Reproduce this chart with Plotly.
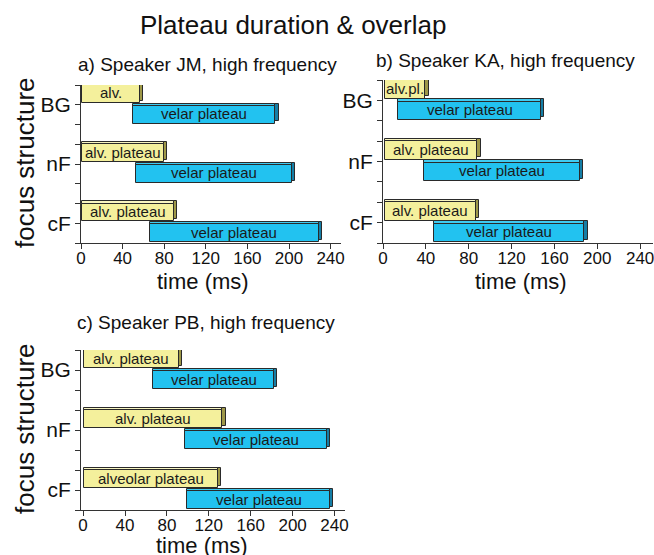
import plotly.graph_objects as go

# ---------------- data ----------------
categories = ["BG", "nF", "cF"]
cat_pos = [2, 1, 0]
x_ticks = [0, 40, 80, 120, 160, 200, 240]

main_title = "Plateau duration & overlap"
panel_titles = ["a) Speaker JM, high frequency",
                "b) Speaker KA, high frequency",
                "c) Speaker PB, high frequency"]
x_title = "time (ms)"
y_title = "focus structure"

# panel a (ms), order BG, nF, cF
alv_start_a = [1, 1, 1]
alv_end_a = [57, 80, 89]
vel_start_a = [50, 53, 66]
vel_end_a = [187, 203, 229]
alv_labels_a = ["alv.", "alv. plateau", "alv. plateau"]

# panel b
alv_start_b = [1.5, 1.5, 1.5]
alv_end_b = [39.5, 88, 87]
vel_start_b = [14, 38, 47.5]
vel_end_b = [147.5, 184, 188]
alv_labels_b = ["alv.pl.", "alv. plateau", "alv. plateau"]

# panel c
alv_start_c = [0.6, 0.6, 0.6]
alv_end_c = [91.5, 133, 129]
vel_start_c = [67, 97.5, 99.5]
vel_end_c = [182.5, 232.5, 236]
alv_labels_c = ["alv. plateau", "alv. plateau", "alveolar plateau"]

vel_label = "velar plateau"

# ---------------- styling ----------------
W, H = 654, 555
FONT = "Liberation Sans, Arial, sans-serif"
YEL, YEL_TOP, YEL_SIDE = "#F4F09C", "#F8F5C0", "#9E9848"
BLU, BLU_TOP, BLU_SIDE = "#22C2F0", "#3FCBF2", "#157EA6"
EDGE = "#2a2a2a"
D_MS = 3.0     # depth to the right (ms)
D_Y = 0.04     # depth upwards (category units)
BAR_W = 0.30
ALV_OFF, VEL_OFF = 0.03, -0.32

panels = [
    dict(alv_s=alv_start_a, alv_e=alv_end_a, vel_s=vel_start_a, vel_e=vel_end_a,
         labels=alv_labels_a, px=(81, 341), py=(85, 243), xr=(0, 250), ax="",
         xt=(203, 281), yt=True),
    dict(alv_s=alv_start_b, alv_e=alv_end_b, vel_s=vel_start_b, vel_e=vel_end_b,
         labels=alv_labels_b, px=(383, 653), py=(80, 243), xr=(0, 252), ax="2",
         xt=(521, 281), yt=False),
    dict(alv_s=alv_start_c, alv_e=alv_end_c, vel_s=vel_start_c, vel_e=vel_end_c,
         labels=alv_labels_c, px=(81, 345), py=(350, 510), xr=(-2, 250), ax="3",
         xt=(202, 545), yt=True),
]

fig = go.Figure()
annotations = []


def add_bar(ax, starts, ends, offset, face, top, side, texts):
    durs = [e - s for s, e in zip(starts, ends)]
    common = dict(y=cat_pos, orientation="h", width=BAR_W, xaxis="x" + ax, yaxis="y" + ax,
                  showlegend=False, hoverinfo="skip")
    # side (dark) layer, shifted right and up
    fig.add_trace(go.Bar(x=durs, base=[s + D_MS for s in starts], offset=offset + D_Y,
                         marker=dict(color=side, line=dict(color=EDGE, width=1)), **common))
    # top (light) layer, shifted up
    fig.add_trace(go.Bar(x=durs, base=starts, offset=offset + D_Y,
                         marker=dict(color=top, line=dict(color=EDGE, width=1)), **common))
    # front face
    fig.add_trace(go.Bar(x=durs, base=starts, offset=offset,
                         marker=dict(color=face, line=dict(color=EDGE, width=1)), **common))
    for s, e, y, t in zip(starts, ends, cat_pos, texts):
        annotations.append(dict(text=t, x=(s + e) / 2, y=y + offset + BAR_W / 2 + 0.02,
                                xref="x" + ax, yref="y" + ax, showarrow=False,
                                xanchor="center", yanchor="middle",
                                font=dict(family=FONT, size=15, color="#1a1a1a")))


layout_axes = {}
for p in panels:
    ax = p["ax"]
    add_bar(ax, p["alv_s"], p["alv_e"], ALV_OFF, YEL, YEL_TOP, YEL_SIDE, p["labels"])
    add_bar(ax, p["vel_s"], p["vel_e"], VEL_OFF, BLU, BLU_TOP, BLU_SIDE, [vel_label] * 3)

    x0, x1 = p["px"]
    y0, y1 = p["py"]
    ytv = [-1/3, 0, 1/3, 2/3, 1, 4/3, 5/3, 2, 7/3]
    ytt = []
    for v in ytv:
        lab = ""
        for c, pos in zip(categories, cat_pos):
            if abs(v - pos) < 1e-6:
                lab = c
        ytt.append(lab)
    layout_axes["xaxis" + ax] = dict(
        domain=[x0 / W, x1 / W], anchor="y" + ax, range=list(p["xr"]), automargin=False,
        tickvals=x_ticks, ticks="outside", ticklen=5, tickcolor="#333",
        ticklabeloverflow="allow", ticklabelstandoff=-5,
        showline=True, linecolor="#333", linewidth=1, showgrid=False, zeroline=False,
        tickfont=dict(family=FONT, size=17, color="#111"),
    )
    layout_axes["yaxis" + ax] = dict(
        domain=[1 - y1 / H, 1 - y0 / H], anchor="x" + ax, range=[-1/3, 7/3], automargin=False,
        tickvals=ytv, ticktext=ytt, ticks="outside", ticklen=5, tickcolor="#333",
        ticklabeloverflow="allow",
        showline=True, linecolor="#333", linewidth=1, showgrid=False, zeroline=False,
        tickfont=dict(family=FONT, size=21, color="#111"),
    )
    annotations.append(dict(text=x_title, x=p["xt"][0] / W, y=1 - p["xt"][1] / H,
                            xref="paper", yref="paper", showarrow=False,
                            xanchor="center", yanchor="middle",
                            font=dict(family=FONT, size=22, color="#111")))
    if p["yt"]:
        annotations.append(dict(text=y_title, x=25 / W, y=1 - ((y0 + y1) / 2 - 1) / H,
                                xref="paper", yref="paper", showarrow=False, textangle=-90,
                                xanchor="center", yanchor="middle",
                                font=dict(family=FONT, size=26, color="#111")))

annotations += [
    dict(text=main_title, x=293 / W, y=1 - 25 / H, xref="paper", yref="paper",
         showarrow=False, font=dict(family=FONT, size=26, color="#111"),
         xanchor="center", yanchor="middle"),
    dict(text=panel_titles[0], x=207 / W, y=1 - 64 / H, xref="paper", yref="paper",
         showarrow=False, font=dict(family=FONT, size=19, color="#111"),
         xanchor="center", yanchor="middle"),
    dict(text=panel_titles[1], x=505 / W, y=1 - 61 / H, xref="paper", yref="paper",
         showarrow=False, font=dict(family=FONT, size=19, color="#111"),
         xanchor="center", yanchor="middle"),
    dict(text=panel_titles[2], x=206 / W, y=1 - 322 / H, xref="paper", yref="paper",
         showarrow=False, font=dict(family=FONT, size=19, color="#111"),
         xanchor="center", yanchor="middle"),
]

fig.update_layout(
    width=W, height=H, margin=dict(l=0, r=0, t=0, b=0),
    paper_bgcolor="white", plot_bgcolor="white",
    barmode="overlay", bargap=0,
    annotations=annotations,
    font=dict(family=FONT),
    **layout_axes,
)

fig.write_html("out.html", config={"displayModeBar": False},
               post_script="document.body.style.margin='0';document.body.style.overflow='hidden';")
